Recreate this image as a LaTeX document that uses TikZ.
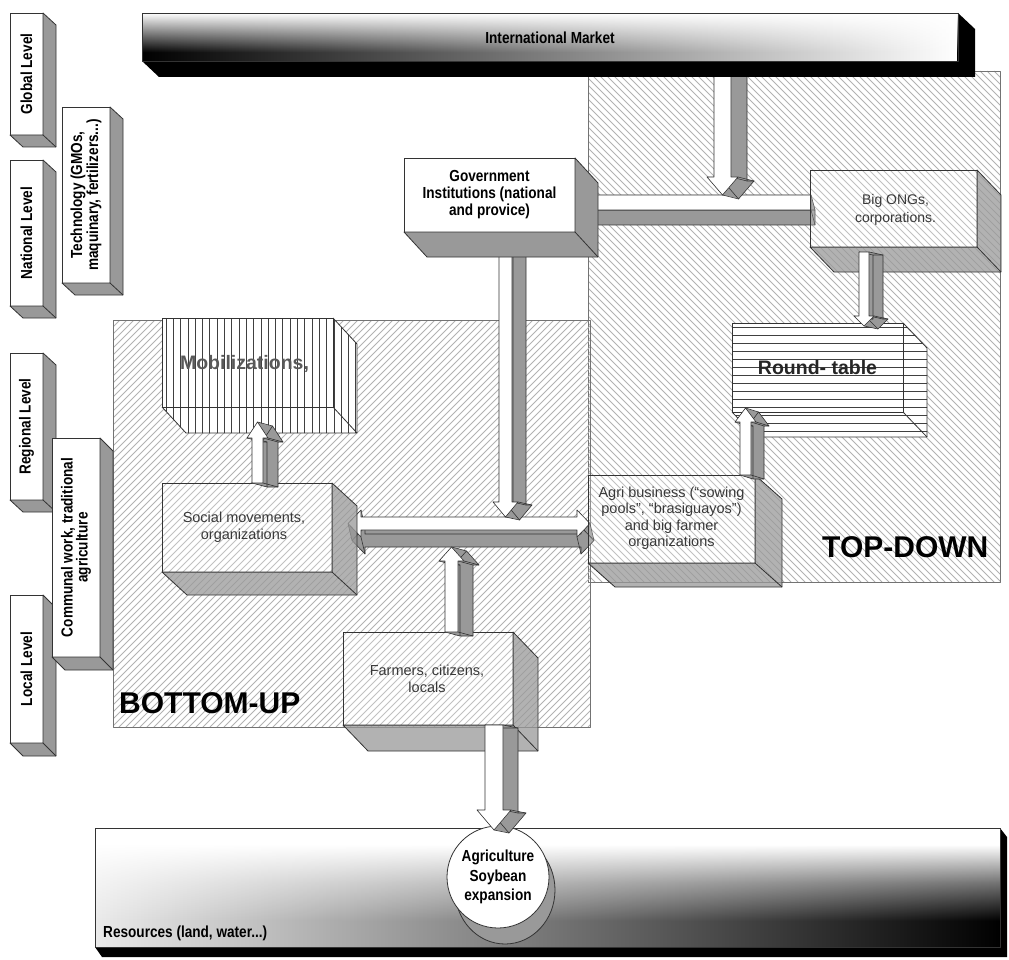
\documentclass[tikz,border=0pt]{standalone}
\usepackage{fontspec}
\setmainfont{Liberation Sans}
\newfontfamily\narrowfont{Liberation Sans}[FakeStretch=0.85]
\usetikzlibrary{calc,fadings}

\definecolor{linec}{gray}{0.2}
\definecolor{sidec}{gray}{0.6}
\definecolor{hatchc}{gray}{0.7}
\definecolor{framec}{gray}{0.45}
\definecolor{stripec}{gray}{0.25}
\definecolor{txtc}{gray}{0.22}

\newcommand\fsz[2]{\fontsize{#1}{#2}\selectfont}

\tikzfading[name=fadeR, left color=transparent!100, right color=transparent!0]
\tikzfading[name=fadeL, left color=transparent!8, right color=transparent!100]
% vertical shadings: the band 25bp..75bp is what covers the filled rectangle
\pgfdeclareverticalshading{topbarshade}{100bp}{color(0bp)=(black); color(34bp)=(black); color(75bp)=(white); color(100bp)=(white)}
\pgfdeclareverticalshading{botbarshade}{100bp}{color(0bp)=(black); color(36bp)=(black); color(52bp)=(black!55); color(68bp)=(white); color(100bp)=(white)}

% corner points of a one-headed block arrow: id, start, tip, half width, barb, head length
\newcommand\setarrow[6]{%
  \coordinate (#1-t) at (#3);
  \coordinate (#1-h) at ($(#3)!#6pt!(#2)$);
  \coordinate (#1-a) at ($(#2)!#4pt!90:(#3)$);
  \coordinate (#1-b) at ($(#2)!#4pt!-90:(#3)$);
  \coordinate (#1-c) at ($(#1-h)!#4pt!90:(#3)$);
  \coordinate (#1-d) at ($(#1-h)!#4pt!-90:(#3)$);
  \coordinate (#1-e) at ($(#1-h)!#4pt+#5pt!90:(#3)$);
  \coordinate (#1-f) at ($(#1-h)!#4pt+#5pt!-90:(#3)$);
}
% extruded block arrow: id, depth dx, depth dy
\newcommand\drawblock[3]{%
  \foreach \k in {0,...,16}{%
    \fill[sidec, transform canvas={shift={(#2*\k/16,#3*\k/16)}}]
      (#1-a) -- (#1-c) -- (#1-e) -- (#1-t) -- (#1-f) -- (#1-d) -- (#1-b) -- cycle;}
  \draw[arrowline, transform canvas={shift={(#2,#3)}}]
      (#1-a) -- (#1-c) -- (#1-e) -- (#1-t) -- (#1-f) -- (#1-d) -- (#1-b) -- cycle;
  \foreach \p in {a,b,c,d,e,f,t}{\draw[arrowline] (#1-\p) -- ++(#2,#3);}
  \filldraw[arrowline, fill=white]
      (#1-a) -- (#1-c) -- (#1-e) -- (#1-t) -- (#1-f) -- (#1-d) -- (#1-b) -- cycle;
}
% corner points of a two-headed block arrow: id, tip A, tip B, half width, barb, head length
\newcommand\setdouble[6]{%
  \coordinate (#1-ta) at (#2);
  \coordinate (#1-tb) at (#3);
  \coordinate (#1-ha) at ($(#2)!#6pt!(#3)$);
  \coordinate (#1-hb) at ($(#3)!#6pt!(#2)$);
  \coordinate (#1-a1) at ($(#1-ha)!#4pt!90:(#3)$);
  \coordinate (#1-a2) at ($(#1-ha)!#4pt+#5pt!90:(#3)$);
  \coordinate (#1-a3) at ($(#1-ha)!#4pt!-90:(#3)$);
  \coordinate (#1-a4) at ($(#1-ha)!#4pt+#5pt!-90:(#3)$);
  \coordinate (#1-b1) at ($(#1-hb)!#4pt!-90:(#2)$);
  \coordinate (#1-b2) at ($(#1-hb)!#4pt+#5pt!-90:(#2)$);
  \coordinate (#1-b3) at ($(#1-hb)!#4pt!90:(#2)$);
  \coordinate (#1-b4) at ($(#1-hb)!#4pt+#5pt!90:(#2)$);
}
\newcommand\drawdouble[3]{%
  \foreach \k in {0,...,16}{%
    \fill[sidec, transform canvas={shift={(#2*\k/16,#3*\k/16)}}]
      (#1-ta) -- (#1-a2) -- (#1-a1) -- (#1-b1) -- (#1-b2) -- (#1-tb) -- (#1-b4) -- (#1-b3) -- (#1-a3) -- (#1-a4) -- cycle;}
  \draw[arrowline, transform canvas={shift={(#2,#3)}}]
      (#1-ta) -- (#1-a2) -- (#1-a1) -- (#1-b1) -- (#1-b2) -- (#1-tb) -- (#1-b4) -- (#1-b3) -- (#1-a3) -- (#1-a4) -- cycle;
  \foreach \p in {ta,tb,a2,a4,b2,b4}{\draw[arrowline] (#1-\p) -- ++(#2,#3);}
  \filldraw[arrowline, fill=white]
      (#1-ta) -- (#1-a2) -- (#1-a1) -- (#1-b1) -- (#1-b2) -- (#1-tb) -- (#1-b4) -- (#1-b3) -- (#1-a3) -- (#1-a4) -- cycle;
}
% side and bottom faces of a box node: node, dx, dy, style
\newcommand\slab[4]{%
  \filldraw[#4] (#1.north east) -- ++(#2,#3) -- ($(#1.south east)+(#2,#3)$)
     -- ($(#1.south west)+(#2,#3)$) -- (#1.south west) -- (#1.south east) -- cycle;
  \draw[#4, fill=none] (#1.south east) -- ++(#2,#3);
}

\begin{document}
\begin{tikzpicture}[x=1pt, y=-1pt, line join=round,
  box/.style={inner sep=0pt, outer sep=0pt, anchor=north west},
  whiteface/.style={box, draw=linec, line width=0.8pt, fill=white},
  glassface/.style={box, draw=linec, line width=0.8pt, fill=white, fill opacity=0.2},
  solidside/.style={draw=linec, line width=0.8pt, fill=sidec},
  glassside/.style={draw=linec, line width=0.8pt, fill=sidec, fill opacity=0.75},
  hatch/.style={draw=hatchc, line width=0.75pt},
  stripe/.style={draw=stripec, line width=0.8pt},
  outline/.style={draw=linec, line width=0.8pt},
  arrowline/.style={draw=linec, line width=0.6pt},
  lvl/.style={font=\narrowfont\bfseries\fsz{16}{14}, rotate=90, align=center, inner sep=0pt},
  boldlbl/.style={font=\narrowfont\bfseries\fsz{16}{17}, align=center, inner sep=0pt},
  plainlbl/.style={font=\fsz{14.5}{17}, text=txtc, align=center, inner sep=0pt},
  biglbl/.style={font=\bfseries\fsz{30}{30}, inner sep=0pt, anchor=base west},
]
\useasboundingbox (0,0) rectangle (1009,960);
\fill[white] (0,0) rectangle (1009,960);

% ---------- hatched areas ----------
\path node[box, minimum width=412, minimum height=511] (td) at (588,71) {};
\begin{scope}
  \clip (td.north west) rectangle (td.south east);
  \foreach \c in {6,13,...,930} \draw[hatch] (\c+71,71) -- (\c+582,582);
\end{scope}
\draw[framec, line width=0.8pt] (td.north west) rectangle (td.south east);

\path node[box, minimum width=477, minimum height=407] (bu) at (113,320) {};
\begin{scope}
  \clip (bu.north west) rectangle (bu.south east);
  \foreach \c in {433,440,...,1320} \draw[hatch] (\c-320,320) -- (\c-727,727);
\end{scope}
\draw[framec, line width=0.8pt] (bu.north west) rectangle (bu.south east);

% ---------- beam between government and big ONGs ----------
\coordinate (beamA) at (811,202.5);
\coordinate (beamB) at (572,202.5);
\setarrow{beam}{beamA}{beamB}{7.5}{12}{18}
\drawblock{beam}{4}{15}

% ---------- arrow down from the market ----------
\coordinate (imkA) at (722.5,66);
\coordinate (imkB) at (722.5,195);
\setarrow{imk}{imkA}{imkB}{8.5}{7}{18}
\drawblock{imk}{16}{4}

% ---------- International Market bar ----------
\path node[box, minimum width=816, minimum height=48] (imkt) at (142,13) {};
\fill[black] (imkt.north east) -- ++(17,16) -- ($(imkt.south east)+(17,16)$)
   -- ($(imkt.south west)+(17,16)$) -- (imkt.south west) -- (imkt.south east) -- cycle;
\shade[shading=topbarshade] (imkt.north west) rectangle (imkt.south east);
\fill[white, path fading=fadeR] (imkt.north west) rectangle (imkt.south east);
\draw[outline] (imkt.north west) rectangle (imkt.south east);
\node[boldlbl] (imkttext) at ($(imkt.center)+(0,1)$) {International Market};

% ---------- horizontal two-headed arrow ----------
\coordinate (dblA) at (348,523.5);
\coordinate (dblB) at (590,523.5);
\setdouble{dbl}{dblA}{dblB}{6.5}{7}{13}
\drawdouble{dbl}{4}{17}

% ---------- government arrow and box ----------
\coordinate (govA) at (505.5,245);
\coordinate (govB) at (505.5,517);
\setarrow{gova}{govA}{govB}{6.5}{6}{15}
\drawblock{gova}{14}{3}

\node[whiteface, minimum width=171, minimum height=74] (gov) at (404,158) {};
\slab{gov}{23}{25}{solidside}
\node[boldlbl] (govtext) at (gov.center) {Government\\Institutions (national\\and provice)};

% ---------- big ONGs ----------
\node[glassface, minimum width=167, minimum height=77] (ongs) at (810,170) {};
\slab{ongs}{24}{25}{glassside}
\node[plainlbl, font=\fsz{14}{18}] (ongstext) at ($(ongs.center)+(2,1)$) {Big ONGs,\\corporations.};

% ---------- round-table ----------
\path node[box, minimum width=171, minimum height=89] (round) at (732,323) {};
\fill[white] (round.north west) -- (round.north east) -- ++(24,25) -- ($(round.south east)+(24,25)$)
   -- ($(round.south west)+(24,25)$) -- (round.south west) -- cycle;
\begin{scope}
  \clip (round.north west) -- (round.north east) -- ++(24,25) -- ($(round.south east)+(24,25)$)
   -- ($(round.south west)+(24,25)$) -- (round.south west) -- cycle;
  \foreach \y in {327,335,...,440} \draw[stripe] (728,\y) -- (930,\y);
\end{scope}
\draw[outline] (round.north west) rectangle (round.south east);
\draw[outline] (round.north east) -- ++(24,25) -- ($(round.south east)+(24,25)$)
   -- ($(round.south west)+(24,25)$) -- (round.south west);
\draw[outline] (round.south east) -- ++(24,25);
\node[font=\bfseries\fsz{19.5}{20}, text=black!85, inner sep=0pt] (roundtext) at (round.center) {Round- table};

\coordinate (ongA) at (864,252);
\coordinate (ongB) at (864,326);
\setarrow{onga}{ongA}{ongB}{5}{5}{10}
\drawblock{onga}{14}{3}

% ---------- social movements and mobilizations ----------
\node[glassface, minimum width=170, minimum height=89] (social) at (162,483) {};
\slab{social}{25}{23}{glassside}
\node[plainlbl] (socialtext) at ($(social.center)+(-3,0)$) {Social movements,\\organizations};

\path node[box, minimum width=171, minimum height=89] (mob) at (162,318) {};
\fill[white] (mob.north west) -- (mob.north east) -- ++(24,26) -- ($(mob.south east)+(24,26)$)
   -- ($(mob.south west)+(24,26)$) -- (mob.south west) -- cycle;
\begin{scope}
  \clip (mob.north west) -- (mob.north east) -- ++(24,26) -- ($(mob.south east)+(24,26)$)
   -- ($(mob.south west)+(24,26)$) -- (mob.south west) -- cycle;
  \foreach \x in {166,173.3,...,362} \draw[stripe] (\x,315) -- (\x,440);
\end{scope}
\draw[outline] (mob.north west) rectangle (mob.south east);
\draw[outline] (mob.north east) -- ++(24,26) -- ($(mob.south east)+(24,26)$)
   -- ($(mob.south west)+(24,26)$) -- (mob.south west);
\draw[outline] (mob.south east) -- ++(24,26);
\node[font=\bfseries\fsz{19.5}{20}, text=black!65, inner sep=0pt] (mobtext) at ($(mob.center)+(-3,1)$) {Mobilizations,};

\coordinate (socA) at (257.5,483);
\coordinate (socB) at (257.5,422);
\setarrow{soca}{socA}{socB}{5.5}{5}{16}
\drawblock{soca}{15}{4}

% ---------- agri business ----------
\node[glassface, minimum width=167, minimum height=88] (agri) at (588,475) {};
\slab{agri}{27}{24}{glassside}
\node[plainlbl, font=\fsz{14.5}{16.5}] (agritext) at ($(agri.center)+(0,-1)$)
  {Agri business (“sowing\\pools”, “brasiguayos”)\\and big farmer\\organizations};

\coordinate (agrA) at (745.5,475);
\coordinate (agrB) at (745.5,408);
\setarrow{agra}{agrA}{agrB}{5.5}{5}{14}
\drawblock{agra}{13}{4}

% ---------- farmers ----------
\node[glassface, minimum width=170, minimum height=93] (farm) at (343,632) {};
\slab{farm}{25}{26}{glassside}
\node[plainlbl] (farmtext) at ($(farm.center)+(-1,0)$) {Farmers, citizens,\\locals};

\coordinate (farA) at (451.5,632);
\coordinate (farB) at (451.5,547);
\setarrow{fara}{farA}{farB}{6.5}{6}{14}
\drawblock{fara}{15}{4}

% ---------- resources bar ----------
\path node[box, minimum width=905, minimum height=119] (res) at (95,828) {};
\fill[black] (res.north east) -- ++(7,9) -- ($(res.south east)+(7,10)$)
   -- ($(res.south west)+(7,10)$) -- (res.south west) -- (res.south east) -- cycle;
\shade[shading=botbarshade] (res.north west) rectangle (res.south east);
\fill[white, path fading=fadeL] (res.north west) rectangle (res.south east);
\draw[outline] (res.north west) rectangle (res.south east);
\node[font=\narrowfont\bfseries\fsz{16}{16}, inner sep=0pt, anchor=west] (restext) at (103,933) {Resources (land, water...)};

\fill[sidec, draw=linec, line width=0.8pt] (505,890) ellipse [x radius=50, y radius=54];
\filldraw[fill=white, draw=linec, line width=0.8pt] (498,877) ellipse [x radius=51, y radius=51];
\coordinate (soyc) at (498,877);
\node[font=\narrowfont\bfseries\fsz{16}{19.5}, align=center, inner sep=0pt] (soy) at (soyc) {Agriculture\\Soybean\\expansion};

\coordinate (fdnA) at (494,725);
\coordinate (fdnB) at (494,830);
\setarrow{fdn}{fdnA}{fdnB}{9}{8}{20}
\drawblock{fdn}{15}{3}

% ---------- levels ----------
\node[whiteface, minimum width=33, minimum height=122] (global) at (10,13) {};
\slab{global}{13}{12}{solidside}
\node[lvl] (globaltext) at (global.center) {Global Level};

\node[whiteface, minimum width=33, minimum height=146] (national) at (10,160) {};
\slab{national}{13}{12}{solidside}
\node[lvl] (nationaltext) at (national.center) {National Level};

\node[whiteface, minimum width=33, minimum height=147] (regional) at (10,353) {};
\slab{regional}{13}{12}{solidside}
\node[lvl] (regionaltext) at (regional.center) {Regional Level};

\node[whiteface, minimum width=33, minimum height=148] (local) at (10,595) {};
\slab{local}{13}{13}{solidside}
\node[lvl] (localtext) at (local.center) {Local Level};

\node[whiteface, minimum width=48, minimum height=176] (tech) at (62,107) {};
\slab{tech}{13}{12}{solidside}
\node[lvl] (techtext) at (tech.center) {Technology (GMOs,\\maquinary, fertilizers...)};

\node[whiteface, minimum width=48, minimum height=219] (comm) at (52,438) {};
\slab{comm}{13}{13}{solidside}
\node[lvl] (commtext) at (comm.center) {Communal work, traditional\\agriculture};

% ---------- area titles ----------
\node[biglbl] (butitle) at (119,713) {BOTTOM-UP};
\node[biglbl] (tdtitle) at (822,557) {TOP-DOWN};
\end{tikzpicture}
\end{document}
